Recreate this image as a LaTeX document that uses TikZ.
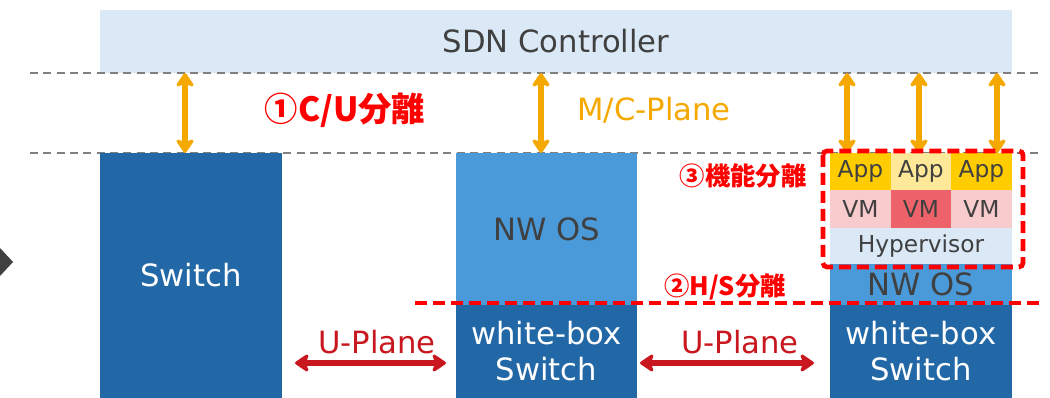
\documentclass[tikz,border=0pt]{standalone}
\usepackage{fontspec}
\setmainfont{DejaVu Sans}
\newfontfamily\jp{Noto Sans CJK JP}
\usetikzlibrary{arrows.meta}
\definecolor{ctrlblue}{HTML}{DAE9F5}
\definecolor{darkblue}{HTML}{2368A6}
\definecolor{midblue}{HTML}{4A9AD9}
\definecolor{appyel}{HTML}{FFCC00}
\definecolor{applite}{HTML}{FFE998}
\definecolor{vmpink}{HTML}{F8CBCC}
\definecolor{vmred}{HTML}{EE636A}
\definecolor{txtgray}{HTML}{404040}
\definecolor{mcorange}{HTML}{F5A800}
\definecolor{uplred}{HTML}{C8171E}
\definecolor{sepred}{HTML}{FF0000}
\definecolor{guide}{HTML}{7F7F7F}
\begin{document}
\begin{tikzpicture}[x=0.75pt,y=-0.75pt,
  blk/.style={inner sep=0pt,outer sep=0pt,anchor=north west,align=center},
  big/.style={font=\fontsize{23}{27}\selectfont},
  small/.style={font=\fontsize{17.5}{20}\selectfont},
  seplabel/.style={text=sepred,font=\jp\bfseries\fontsize{19}{22}\selectfont},
  guideline/.style={draw=guide,line width=1.6pt,dash pattern=on 6pt off 4pt},
  sepline/.style={draw=sepred,line width=3.5pt,dash pattern=on 9pt off 4.5pt},
  tip/.style={Stealth[length=12pt,width=16pt,inset=3pt,round]},
  mcarrow/.style={draw=mcorange,line width=4pt,{Stealth[length=12pt,width=16pt,inset=3pt,round]}-{Stealth[length=12pt,width=16pt,inset=3pt,round]}},
  uarrow/.style={draw=uplred,line width=4pt,{Stealth[length=12pt,width=16pt,inset=3pt,round]}-{Stealth[length=12pt,width=16pt,inset=3pt,round]}}]
\useasboundingbox (0,0) rectangle (1050,398);

% marker on the left edge
\fill[txtgray] (0,248) -- (13,262) -- (0,276) -- cycle;

% controller band
\node[blk,big,fill=ctrlblue,text=txtgray,minimum width=912*0.75pt,minimum height=63*0.75pt] (ctrl) at (100,10) {SDN Controller};

% plane boundaries
\coordinate (gl1) at (30,73);  \coordinate (gr1) at (1040,73);
\coordinate (gl2) at (30,153); \coordinate (gr2) at (1040,153);
\draw[guideline] (gl1) -- (gr1);
\draw[guideline] (gl2) -- (gr2);

% legacy switch
\node[blk,big,fill=darkblue,text=white,minimum width=182*0.75pt,minimum height=245*0.75pt] (sw) at (100,153) {Switch};

% white-box switch with NW OS
\node[blk,big,fill=midblue,text=txtgray,minimum width=181*0.75pt,minimum height=152*0.75pt] (nwos1) at (456,153) {NW OS};
\node[blk,big,fill=darkblue,text=white,minimum width=181*0.75pt,minimum height=93*0.75pt] (wb1) at (456,305) {white-box\\Switch};

% white-box switch with hypervisor and VMs
\node[blk,small,fill=appyel,text=txtgray,minimum width=61*0.75pt,minimum height=37*0.75pt] (app1) at (830,153) {App};
\node[blk,small,fill=applite,text=txtgray,minimum width=60*0.75pt,minimum height=37*0.75pt] (app2) at (891,153) {App};
\node[blk,small,fill=appyel,text=txtgray,minimum width=61*0.75pt,minimum height=37*0.75pt] (app3) at (951,153) {App};
\node[blk,small,fill=vmpink,text=txtgray,minimum width=61*0.75pt,minimum height=38*0.75pt] (vm1) at (830,190) {VM};
\node[blk,small,fill=vmred,text=txtgray,minimum width=60*0.75pt,minimum height=38*0.75pt] (vm2) at (891,190) {VM};
\node[blk,small,fill=vmpink,text=txtgray,minimum width=61*0.75pt,minimum height=38*0.75pt] (vm3) at (951,190) {VM};
\node[blk,small,fill=ctrlblue,text=txtgray,minimum width=182*0.75pt,minimum height=36*0.75pt] (hyp) at (830,228) {Hypervisor};
\node[blk,big,fill=midblue,text=txtgray,minimum width=182*0.75pt,minimum height=41*0.75pt] (nwos2) at (830,264) {NW OS};
\node[blk,big,fill=darkblue,text=white,minimum width=182*0.75pt,minimum height=93*0.75pt] (wb2) at (830,305) {white-box\\Switch};

% M/C-plane links
\draw[mcarrow] (ctrl.south -| 185,0) -- (sw.north -| 185,0);
\draw[mcarrow] (ctrl.south -| 541,0) -- (nwos1.north -| 541,0);
\draw[mcarrow] (ctrl.south -| 847,0) -- (app1.north -| 847,0);
\draw[mcarrow] (ctrl.south -| 919,0) -- (app2.north -| 919,0);
\draw[mcarrow] (ctrl.south -| 997,0) -- (app3.north -| 997,0);
\node[big,text=mcorange] (mcl) at (654,110) {M/C-Plane};

% U-plane links
\coordinate (u1a) at (295,363); \coordinate (u1b) at (446,363);
\coordinate (u2a) at (640,363); \coordinate (u2b) at (814,363);
\draw[uarrow] (u1a) -- (u1b);
\draw[uarrow] (u2a) -- (u2b);
\node[big,text=uplred] (ul1) at (377,342) {U-Plane};
\node[big,text=uplred] (ul2) at (740,342) {U-Plane};

% separation markers
\draw[sepline,rounded corners=3pt] (823,151) rectangle (1023,267);
\coordinate (hs1) at (415,303); \coordinate (hs2) at (1040,303);
\draw[sepline] (hs1) -- (hs2);
\node[seplabel,font=\jp\bfseries\fontsize{25}{29}\selectfont] (cu) at (345,110) {①C/U分離};
\node[seplabel] (fn) at (743,176) {③機能分離};
\node[seplabel] (hs) at (725,287) {②H/S分離};
\end{tikzpicture}
\end{document}
